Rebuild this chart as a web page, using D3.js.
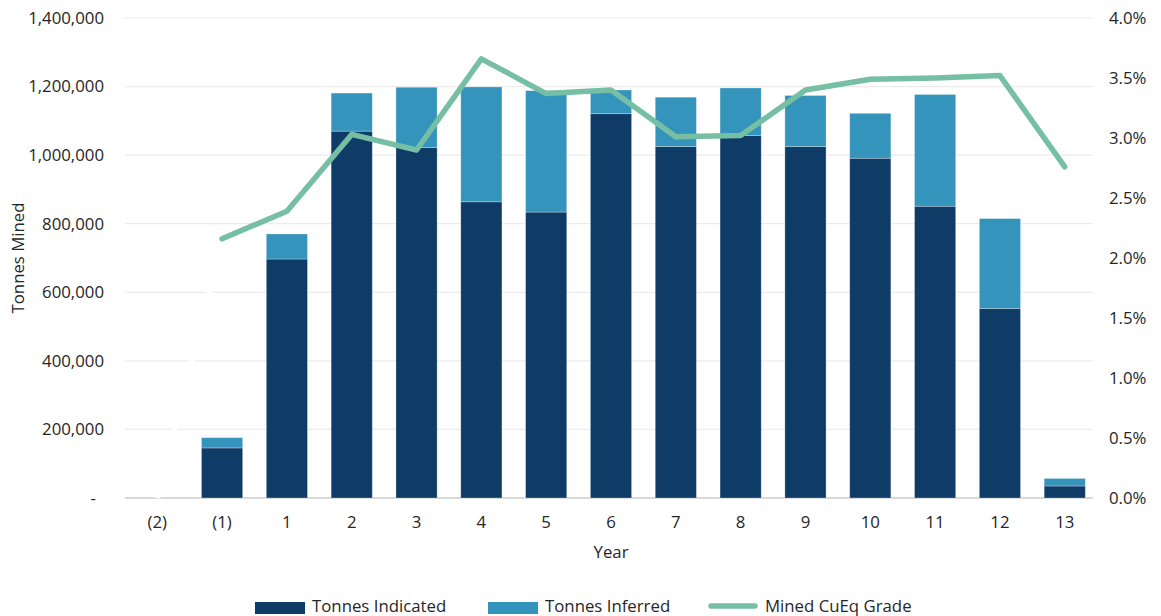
<!DOCTYPE html>
<html><head><meta charset="utf-8">
<script src="https://cdn.jsdelivr.net/npm/d3@7"></script>
<style>
html,body{margin:0;padding:0;background:#fff;}
svg{display:block;font-family:"Open Sans",Inter,sans-serif;}
</style></head>
<body><svg id="chart" width="1161" height="616"></svg>
<script>
const years = ["(2)","(1)","1","2","3","4","5","6","7","8","9","10","11","12","13"];
const tonnesIndicated = [0,146000,697000,1070000,1022000,864000,834000,1121000,1025000,1057000,1025000,991000,851000,553000,35000];
const tonnesInferred  = [0,30000,73000,111000,176000,335000,354000,69000,144000,139000,149000,131000,326000,262000,22000];
const cuEqGrade = [0,2.16,2.39,3.03,2.90,3.66,3.37,3.40,3.01,3.02,3.40,3.49,3.50,3.52,2.76];
const leftTicks = [0,200000,400000,600000,800000,1000000,1200000,1400000];
const rightTicks = [0,0.5,1.0,1.5,2.0,2.5,3.0,3.5,4.0];
const legendLabels = ["Tonnes Indicated","Tonnes Inferred","Mined CuEq Grade"];

const colIndicated = "#0f3c66", colInferred = "#3594bb", colGrade = "#76bfa5";
const textCol = "#262626";
const fs = 16.8;

const svg = d3.select("#chart");
const m = {left:125, right:1097, top:18, bottom:498};

const x = d3.scaleBand().domain(years).range([m.left, m.right]).paddingInner(0.365).paddingOuter(0.18);
const y = d3.scaleLinear().domain([0,1400000]).range([m.bottom, m.top]);
const y2 = d3.scaleLinear().domain([0,4]).range([m.bottom, m.top]);

// gridlines
svg.append("g").selectAll("line").data(leftTicks.filter(d=>d>0)).join("line")
  .attr("x1", m.left).attr("x2", 1093).attr("y1", d=>y(d)).attr("y2", d=>y(d))
  .attr("stroke", "#ececec").attr("stroke-width", 1.2);

// baseline
svg.append("line").attr("x1", m.left).attr("x2", 1093).attr("y1", y(0)).attr("y2", y(0))
  .attr("stroke", "#d9d9d9").attr("stroke-width", 2);

// left axis labels
const fmt = d3.format(",");
svg.append("g").selectAll("text").data(leftTicks).join("text")
  .attr("x", d=> d===0 ? 96 : 104).attr("y", d=>y(d)).attr("dy","0.35em")
  .attr("text-anchor","end").attr("font-size",fs).attr("fill",textCol)
  .text(d=> d===0 ? "-" : fmt(d));

// right axis labels
svg.append("g").selectAll("text").data(rightTicks).join("text")
  .attr("x", 1109).attr("y", d=>y2(d)).attr("dy","0.35em")
  .attr("text-anchor","start").attr("font-size",fs).attr("fill",textCol)
  .text(d=> d.toFixed(1)+"%");

// x labels
svg.append("g").selectAll("text").data(years).join("text")
  .attr("x", d=>x(d)+x.bandwidth()/2).attr("y", 522).attr("dy","0.35em")
  .attr("text-anchor","middle").attr("font-size",fs).attr("fill",textCol)
  .text(d=>d);

// axis titles
svg.append("text").attr("x",611).attr("y",552).attr("dy","0.35em").attr("text-anchor","middle")
  .attr("font-size",fs).attr("fill",textCol).text("Year");
svg.append("text").attr("transform","translate(18,258) rotate(-90)").attr("dy","0.35em")
  .attr("text-anchor","middle").attr("font-size",fs).attr("fill",textCol).text("Tonnes Mined");

// stacked bars
const stackData = years.map((yr,i)=>({year:yr, indicated:tonnesIndicated[i], inferred:tonnesInferred[i]}));
const stack = d3.stack().keys(["indicated","inferred"])(stackData);
const cols = [colIndicated, colInferred];
svg.append("g").selectAll("g").data(stack).join("g").attr("fill",(d,i)=>cols[i])
  .selectAll("rect").data(d=>d).join("rect")
  .attr("x", d=>x(d.data.year)).attr("width", x.bandwidth())
  .attr("y", d=>y(d[1])).attr("height", d=>Math.max(0, y(d[0])-y(d[1])))
  .attr("stroke", "rgba(255,255,255,0.35)").attr("stroke-width", 0.8);

// grade line: hidden (white) first segment, then green
const pts = years.map((yr,i)=>[x(yr)+x.bandwidth()/2, y2(cuEqGrade[i])]);
svg.append("path").attr("d", d3.line()(pts.slice(0,2)))
  .attr("fill","none").attr("stroke","#ffffff").attr("stroke-width",6);
svg.append("path").attr("d", d3.line()(pts.slice(1)))
  .attr("fill","none").attr("stroke",colGrade).attr("stroke-width",5.5)
  .attr("stroke-linejoin","round").attr("stroke-linecap","round");

// legend
const lg = svg.append("g");
const lx = [255, 488, 708];
lg.append("rect").attr("x",lx[0]).attr("y",602).attr("width",50).attr("height",12).attr("fill",colIndicated);
lg.append("rect").attr("x",lx[1]).attr("y",602).attr("width",50).attr("height",12).attr("fill",colInferred);
lg.append("line").attr("x1",lx[2]+3).attr("x2",lx[2]+47).attr("y1",606).attr("y2",606)
  .attr("stroke",colGrade).attr("stroke-width",5.5).attr("stroke-linecap","round");
legendLabels.forEach((t,i)=>{
  lg.append("text").attr("x",lx[i]+57).attr("y",606).attr("dy","0.35em")
    .attr("font-size",fs).attr("fill",textCol).text(t);
});
</script></body></html>
